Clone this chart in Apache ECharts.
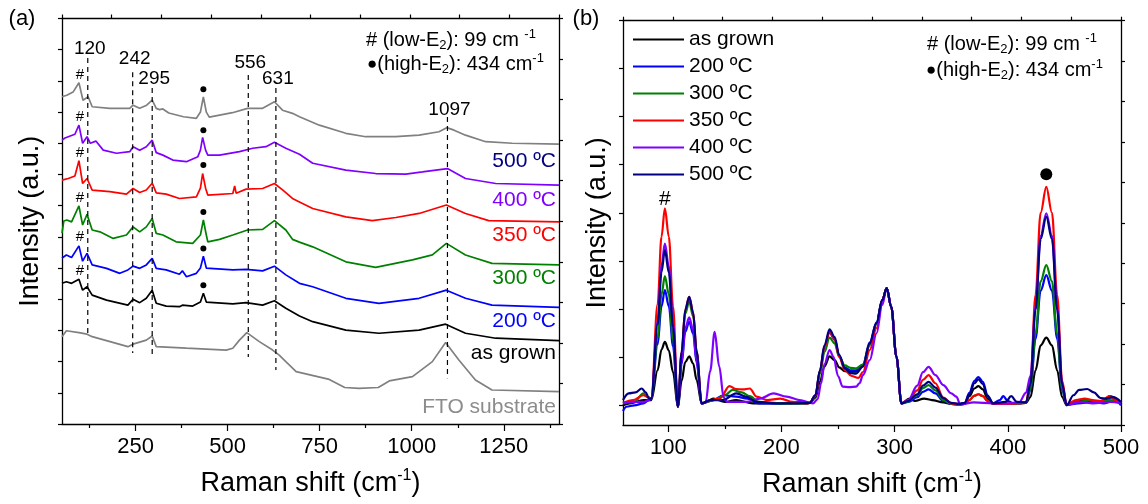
<!DOCTYPE html>
<html>
<head>
<meta charset="utf-8">
<script src="https://cdn.jsdelivr.net/npm/echarts@6/dist/echarts.min.js"></script>
<style>
html, body { margin: 0; padding: 0; background: #fff; }
#chart { width: 1148px; height: 504px; }
</style>
</head>
<body>
<div id="chart"></div>
<script>
// ---------- Panel (a): stacked Raman spectra, [Raman shift (cm-1), offset intensity (a.u.)] ----------
const specA500 = [[50,104.9],[63,105.4],[80,106.4],[96,109.4],[107,103.8],[121,104.9],[132,101.7],[180,101.2],[234,101.2],[243,102.2],[261,101.2],[280,102.2],[295,103.8],[306,101.2],[315,100.8],[324,101.0],[340,99.7],[380,98.5],[415,98.0],[426,100.0],[434,104.9],[442,100.0],[450,98.4],[513,99.8],[554,101.2],[595,101.2],[627,103.3],[649,100.6],[676,99.6],[695,98.5],[749,95.8],[821,93.2],[875,92.1],[956,92.1],[1020,92.6],[1074,93.7],[1095,95.0],[1115,94.2],[1146,92.6],[1201,90.5],[1273,90.0],[1400,89.7]];
const specA400 = [[50,91.0],[58,91.7],[67,92.1],[85,92.9],[96,95.8],[106,90.0],[118,92.1],[127,90.0],[142,90.7],[162,87.8],[198,86.8],[234,87.3],[243,88.9],[261,87.8],[279,88.9],[295,91.0],[306,87.0],[324,86.2],[351,84.6],[388,84.1],[419,85.7],[426,87.8],[432,91.9],[440,87.8],[446,86.2],[478,86.2],[532,87.3],[568,88.4],[604,88.9],[627,90.3],[658,88.4],[695,86.5],[731,83.6],[821,81.4],[902,80.3],[984,80.1],[1029,80.8],[1097,81.9],[1146,78.7],[1228,77.1],[1400,76.6]];
const specA350 = [[50,78.2],[67,78.7],[85,79.5],[96,84.4],[106,77.1],[118,78.7],[132,75.0],[180,74.5],[225,73.7],[243,75.5],[261,74.2],[279,75.0],[295,77.2],[306,74.1],[333,73.7],[369,72.3],[415,72.8],[426,75.6],[432,80.3],[440,75.6],[446,73.4],[514,73.9],[519,76.3],[523,74.0],[550,75.3],[595,75.5],[627,77.1],[650,75.0],[676,72.3],[695,71.2],[731,69.1],[821,66.4],[893,65.2],[957,66.2],[1020,67.5],[1094,70.2],[1146,67.5],[1209,65.2],[1400,64.8]];
const specA300 = [[50,61.2],[55,65.1],[63,65.4],[76,64.8],[96,69.9],[106,63.8],[118,67.2],[132,62.2],[153,61.6],[189,59.5],[225,60.6],[243,63.2],[261,61.6],[279,63.2],[295,65.9],[306,61.1],[324,60.6],[360,58.4],[405,57.9],[426,60.6],[434,65.4],[442,60.6],[446,58.4],[478,59.2],[514,60.6],[554,62.2],[595,62.4],[627,65.2],[658,62.2],[676,59.2],[695,58.3],[731,56.8],[821,52.0],[902,50.2],[1002,52.6],[1056,54.2],[1094,57.9],[1146,54.2],[1218,51.5],[1400,51.0]];
const specA200 = [[50,53.2],[62,54.2],[76,53.4],[96,57.1],[106,52.2],[118,54.7],[132,51.0],[171,49.9],[207,48.3],[229,49.4],[243,50.6],[261,49.9],[279,51.0],[295,53.1],[306,49.9],[333,49.4],[369,48.0],[377,49.1],[388,47.2],[415,48.3],[426,50.0],[434,53.8],[442,50.0],[446,49.6],[514,49.4],[550,49.6],[595,49.1],[627,50.6],[658,47.8],[695,45.1],[731,44.0],[821,40.3],[911,38.7],[1020,40.3],[1094,42.9],[1146,40.3],[1218,38.1],[1400,37.4]];
const specAGrown = [[50,45.1],[62,45.6],[76,45.1],[96,46.4],[106,42.9],[118,44.0],[132,41.3],[171,39.7],[229,38.1],[243,40.0],[261,38.9],[279,40.3],[295,42.9],[306,38.7],[333,37.8],[369,37.6],[377,38.1],[405,37.8],[426,39.1],[434,41.9],[442,39.1],[446,38.5],[514,38.5],[550,38.9],[595,38.1],[627,39.5],[658,37.1],[695,34.6],[731,32.8],[821,30.1],[911,29.1],[1020,30.1],[1092,32.0],[1146,29.1],[1228,27.5],[1400,26.7]];
const specAFTO = [[50,28.0],[62,29.9],[96,29.3],[118,28.8],[132,28.0],[229,24.8],[243,25.6],[279,26.9],[295,28.2],[306,24.8],[388,24.3],[496,23.7],[514,24.3],[532,26.9],[552,29.3],[586,26.4],[622,23.7],[640,22.1],[658,20.0],[686,16.8],[776,14.3],[818,11.7],[857,11.4],[909,11.7],[939,13.8],[1002,15.2],[1056,20.0],[1092,26.1],[1128,20.5],[1173,14.1],[1218,10.9],[1400,10.4]];

// Assigned mode positions (dashed guides) and their vertical extent
const peakShifts = [120, 242, 295, 556, 631, 1097];
const peakLineTop = [117.3, 112.8, 107.7, 111.9, 107.7, 98.4];
const peakLineBottom = [27.9, 22.8, 21.8, 21.5, 17.3, 14.7];
const peakLabelLevel = [120.2, 117.0, 110.6, 115.7, 110.6, 100.6];
// low-E2 (#, 99 cm-1) and high-E2 (dot, 434 cm-1) marks above each film spectrum
const lowE2Shift = 99;
const lowE2Levels = [111.9, 98.5, 86.8, 72.6, 59.9, 49.0];
const highE2Shift = 434;
const highE2Levels = [107.3, 94.2, 83.0, 68.0, 56.3, 44.5];

// Tick values
const tickA = [250, 500, 750, 1000, 1250];
const minorTickA = [125, 375, 625, 875, 1125, 1375];
const tickB = [100, 200, 300, 400, 500];
const minorTickB = [150, 250, 350, 450];
const tickBLeft = [0, 1, 2, 3, 4, 5, 6, 7, 8];

// ---------- Panel (b): low-frequency region, [Raman shift (cm-1), intensity (a.u.)] ----------
const specBGrown = [[60,-0.01],[66,0.03],[78,0.10],[83,0.10],[85,0.10],[90.6,0.72],[94,1.15],[97,1.31],[100.5,1.13],[104.2,0.68],[108.5,-0.04],[111.8,0.50],[115,0.89],[118.5,1.01],[122,0.86],[125,0.52],[129.5,0.03],[135,0.08],[140,0.13],[150,0.06],[160,0.10],[175,0.03],[200,0.03],[222,0.03],[225,0.04],[230,0.15],[234,0.48],[238,0.80],[242.5,1.01],[247,0.93],[251,0.78],[256,0.70],[261,0.69],[266,0.69],[272,0.80],[278,1.25],[284,1.70],[289,2.18],[293,2.43],[297,2.04],[301.6,1.00],[306,0.03],[313,0.13],[318,0.08],[326,0.13],[333,0.10],[343,0.05],[350,0.02],[357,0.01],[362,0.03],[366,0.18],[370.5,0.34],[374,0.39],[378,0.32],[382,0.13],[387,0.02],[400,0.02],[416,0.04],[420,0.16],[424.5,0.72],[429,1.24],[434,1.40],[439,1.24],[443.6,0.72],[448,0.16],[452,0.00],[460,0.06],[468,0.10],[476,0.04],[483,0.04],[490,0.18],[500,0.04]];
const specB200 = [[60,-0.13],[63,-0.04],[70,-0.01],[78,0.03],[83,0.10],[85,0.13],[90.6,1.26],[94,2.05],[97,2.39],[100.5,2.05],[104.2,1.22],[108.5,-0.04],[111.8,0.85],[115,1.52],[118.5,1.73],[122,1.48],[125,0.88],[129.5,0.03],[140,0.10],[148.5,0.20],[160,0.17],[170,0.13],[180,0.03],[200,0.03],[215,0.06],[222,0.03],[225,0.04],[230,0.20],[234,0.70],[238,1.20],[242.5,1.51],[247,1.36],[251,1.02],[256,0.78],[261,0.72],[266,0.72],[272,0.84],[278,1.30],[284,1.72],[289,2.18],[293,2.43],[297,2.04],[301.6,1.00],[306,0.03],[312,0.06],[320,0.16],[325,0.27],[330,0.32],[336,0.24],[343,0.08],[350,0.02],[357,0.01],[362,0.04],[366,0.25],[370.5,0.50],[374,0.58],[378,0.48],[382,0.20],[387,0.03],[393,0.10],[396,0.18],[400,0.08],[405,0.03],[410,0.03],[416,0.05],[420,0.31],[424.5,1.38],[429,2.38],[434,2.70],[439,2.38],[443.6,1.38],[448,0.31],[452,0.00],[462,0.03],[475,0.06],[485,0.03],[495,0.10],[500,-0.01]];
const specB300 = [[60,0.04],[70,0.06],[78,0.24],[82,0.16],[85,0.13],[90.6,1.40],[94,2.30],[97,2.68],[100.5,2.30],[104.2,1.36],[108.5,-0.04],[111.8,1.05],[115,1.90],[118.5,2.15],[122,1.84],[125,1.08],[129.5,0.03],[140,0.10],[150,0.20],[157,0.31],[165,0.26],[172,0.18],[180,0.06],[200,0.03],[222,0.03],[225,0.04],[230,0.18],[234,0.64],[238,1.10],[242.5,1.40],[247,1.28],[251,1.00],[256,0.82],[261,0.77],[266,0.76],[272,0.84],[278,1.25],[284,1.68],[289,2.16],[293,2.43],[297,2.04],[301.6,1.00],[306,0.03],[312,0.07],[320,0.20],[325,0.35],[330,0.41],[336,0.30],[343,0.10],[350,0.02],[357,0.00],[362,0.02],[366,0.10],[370.5,0.19],[374,0.22],[378,0.18],[382,0.08],[387,0.02],[400,0.02],[416,0.04],[420,0.33],[424.5,1.48],[429,2.57],[434,2.91],[439,2.57],[443.6,1.48],[448,0.33],[452,0.00],[462,0.06],[472,0.10],[480,0.06],[490,0.10],[500,0.04]];
const specB350 = [[60,0.04],[69,0.10],[78,0.20],[82,0.16],[85,0.13],[90.6,2.10],[94,3.50],[97,4.09],[100.5,3.50],[104.2,2.05],[108.5,-0.04],[111.8,1.10],[115,1.98],[118.5,2.25],[122,1.92],[125,1.12],[129.5,0.03],[138,0.10],[146,0.14],[154,0.39],[160,0.33],[166,0.32],[172,0.34],[178,0.17],[187,0.10],[199,0.13],[210,0.06],[222,0.03],[225,0.04],[230,0.19],[234,0.70],[238,1.20],[242.5,1.52],[247,1.37],[251,1.00],[256,0.72],[262,0.60],[268,0.56],[272,0.68],[278,1.14],[284,1.60],[289,2.18],[293,2.43],[297,2.04],[301.6,1.00],[306,0.03],[312,0.10],[320,0.30],[325,0.52],[330,0.62],[336,0.45],[343,0.15],[350,0.03],[357,0.01],[362,0.02],[366,0.10],[370.5,0.19],[374,0.22],[378,0.18],[382,0.08],[387,0.02],[400,0.02],[416,0.04],[420,0.50],[424.5,2.29],[429,4.00],[434,4.54],[439,4.00],[443.6,2.29],[448,0.50],[452,0.00],[460,0.10],[468,0.13],[475,0.10],[482,0.08],[490,0.18],[495,0.10],[500,0.04]];
const specB400 = [[60,0.03],[68,0.06],[78,0.06],[83,0.10],[85,0.13],[90.6,1.74],[94,2.90],[97,3.36],[100.5,2.88],[104.2,1.70],[108.5,-0.04],[111.8,0.90],[115,1.60],[118.5,1.82],[122,1.56],[125,0.92],[129.5,0.03],[133,0.05],[137,0.70],[141,1.52],[145,0.80],[149,0.15],[152,0.06],[169,0.06],[181,0.13],[193,0.24],[204.5,0.17],[216,0.10],[228,0.03],[232,0.12],[235,0.45],[238,0.85],[242.5,1.14],[246,1.00],[250,0.60],[254,0.38],[260,0.37],[266,0.38],[269,0.45],[272,0.62],[278,0.93],[284,1.49],[289,2.08],[293,2.43],[297,2.04],[301.6,1.00],[306,0.03],[312,0.10],[320,0.40],[325,0.68],[330,0.79],[336,0.62],[343,0.41],[350,0.24],[354.5,0.17],[358,0.01],[370,0.05],[387,0.03],[400,0.03],[410,0.05],[416,0.25],[420,0.60],[424.5,2.05],[429,3.52],[434,3.99],[439,3.52],[443.6,2.02],[448,0.40],[452,0.00],[465,0.06],[475,0.03],[490,0.06],[500,0.03]];
const specB500 = [[60,0.10],[65,0.24],[71,0.26],[76.5,0.34],[80,0.26],[83,0.13],[85,0.13],[90.6,1.68],[94,2.76],[97,3.22],[100.5,2.76],[104.2,1.62],[108.5,-0.04],[111.8,1.10],[115,1.98],[118.5,2.25],[122,1.92],[125,1.12],[129.5,0.03],[137,0.10],[148.5,0.10],[160,0.24],[170,0.16],[178,0.06],[195,0.03],[210,0.03],[225,0.04],[230,0.20],[234,0.72],[238,1.24],[242.5,1.57],[247,1.41],[251,1.04],[256,0.76],[261,0.66],[266,0.65],[272,0.80],[278,1.28],[284,1.70],[289,2.18],[293,2.43],[297,2.04],[301.6,1.00],[306,0.03],[312,0.08],[320,0.22],[325,0.40],[330,0.48],[336,0.36],[343,0.14],[350,0.04],[357,0.02],[362,0.04],[366,0.22],[370.5,0.45],[374,0.53],[378,0.43],[382,0.18],[387,0.03],[398,0.06],[403,0.18],[408,0.06],[416,0.05],[420,0.43],[424.5,1.98],[429,3.45],[434,3.92],[439,3.45],[443.6,1.98],[448,0.43],[452,-0.01],[458,0.20],[463,0.31],[470,0.33],[476,0.26],[482,0.14],[487,0.13],[493,0.16],[500,0.06]];
const lowE2ShiftB = 97;
const lowE2LevelB = 4.28;
const highE2LevelB = 4.80;

const sampleNames = ['as grown', '200 ºC', '300 ºC', '350 ºC', '400 ºC', '500 ºC'];
const sampleColors = ['#000000', '#0000FF', '#008000', '#FF0000', '#8000FF', '#000080'];

const FONT = '"Liberation Sans", Arial, Helvetica, sans-serif';
const BLACK = '#000';

const chart = echarts.init(document.getElementById('chart'), null, { renderer: 'canvas' });

function frameX(gridIndex, min, max, position, tickValues, tickLen, extra) {
  return Object.assign({
    gridIndex, type: 'value', min, max, position,
    axisLine: { show: true, onZero: false, lineStyle: { color: BLACK, width: 1.3 } },
    axisTick: { show: true, inside: false, length: tickLen, customValues: tickValues, lineStyle: { color: BLACK, width: 1.2 } },
    axisLabel: { show: false },
    splitLine: { show: false }
  }, extra || {});
}
function frameY(gridIndex, min, max, position, tickValues, extra) {
  return Object.assign({
    gridIndex, type: 'value', min, max, position,
    axisLine: { show: true, onZero: false, lineStyle: { color: BLACK, width: 1.3 } },
    axisTick: { show: true, inside: false, length: 4, customValues: tickValues, lineStyle: { color: BLACK, width: 1.2 } },
    axisLabel: { show: false },
    splitLine: { show: false }
  }, extra || {});
}
const range = (a, b) => { const r = []; for (let i = a; i <= b; i++) r.push(i); return r; };

const shiftName = {
  name: '{a|Raman shift (cm}{s|-1}{a|)}',
  nameLocation: 'middle',
  nameTextStyle: {
    rich: {
      a: { fontSize: 27, fontFamily: FONT, color: BLACK, lineHeight: 32 },
      s: { fontSize: 16, fontFamily: FONT, color: BLACK, verticalAlign: 'top', lineHeight: 18 }
    }
  }
};
const intensityName = {
  name: 'Intensity (a.u.)',
  nameLocation: 'middle',
  nameTextStyle: { fontSize: 27, fontFamily: FONT, color: BLACK }
};
const tickLabelStyle = (values) => ({
  show: true, customValues: values, fontSize: 22, fontFamily: FONT, color: BLACK, margin: 12,
  formatter: v => String(v)
});
const hiddenLine = { show: false, onZero: false };

const xAxes = [
  frameX(0, 50, 1400, 'bottom', tickA, 7, Object.assign({ axisLabel: tickLabelStyle(tickA), nameGap: 44 }, shiftName)),
  frameX(0, 50, 1400, 'bottom', minorTickA, 4, { axisLine: hiddenLine }),
  frameX(0, 0, 10, 'top', range(0, 10), 4),
  frameX(1, 60, 500, 'bottom', tickB, 7, Object.assign({ axisLabel: tickLabelStyle(tickB), nameGap: 44 }, shiftName)),
  frameX(1, 60, 500, 'bottom', minorTickB, 4, { axisLine: hiddenLine }),
  frameX(1, 0, 10, 'top', range(0, 10), 4)
];
const yAxes = [
  frameY(0, 0, 130, 'left', range(0, 13).map(v => v * 10), Object.assign({ nameGap: 18 }, intensityName)),
  frameY(0, 0, 10, 'right', range(0, 10)),
  frameY(1, -0.42, 8, 'left', tickBLeft, Object.assign({ nameGap: 12 }, intensityName)),
  frameY(1, 0, 10, 'right', range(0, 10))
];

const series = [];

// Panel (a) spectra
const panelA = [
  { data: specAFTO, color: '#808080' },
  { data: specAGrown, color: sampleColors[0] },
  { data: specA200, color: sampleColors[1] },
  { data: specA300, color: sampleColors[2] },
  { data: specA350, color: sampleColors[3] },
  { data: specA400, color: sampleColors[4] },
  { data: specA500, color: '#808080' }
];
panelA.forEach(s => series.push({
  type: 'line', xAxisIndex: 0, yAxisIndex: 0, data: s.data, symbol: 'none',
  lineStyle: { color: s.color, width: 1.7 }, silent: true, z: 3
}));

// Dashed guides at assigned modes
peakShifts.forEach((p, i) => {
  series.push({
    type: 'line', xAxisIndex: 0, yAxisIndex: 0, symbol: 'none', silent: true, z: 4,
    data: [[p, peakLineTop[i]], [p, peakLineBottom[i]]],
    lineStyle: { color: BLACK, width: 1.2, type: [5, 4] }
  });
});
// high-E2 dots
series.push({
  type: 'scatter', xAxisIndex: 0, yAxisIndex: 0, symbol: 'circle', symbolSize: 6, silent: true, z: 5,
  itemStyle: { color: BLACK, opacity: 1 },
  data: highE2Levels.map(v => [highE2Shift, v])
});

// Panel (b) spectra
const panelB = [specBGrown, specB200, specB300, specB350, specB400, specB500];
panelB.forEach((d, i) => series.push({
  name: sampleNames[i], type: 'line', xAxisIndex: 3, yAxisIndex: 2, data: d,
  symbol: 'none', smooth: 0.35, smoothMonotone: 'x',
  lineStyle: { color: sampleColors[i], width: 2.2 }, itemStyle: { color: sampleColors[i] },
  silent: true, z: 3
}));
series.push({
  type: 'scatter', xAxisIndex: 3, yAxisIndex: 2, symbol: 'circle', symbolSize: 12, silent: true, z: 5,
  itemStyle: { color: BLACK, opacity: 1 },
  data: [[highE2Shift, highE2LevelB]]
});

chart.setOption({
  animation: false,
  backgroundColor: '#fff',
  textStyle: { fontFamily: FONT },
  grid: [
    { left: 62, right: 589, top: 18.5, bottom: 80, containLabel: false },
    { left: 623, right: 27, top: 20.7, bottom: 79, containLabel: false }
  ],
  legend: {
    data: sampleNames, orient: 'vertical', left: 628, top: 24,
    icon: 'rect', itemWidth: 51, itemHeight: 2, itemGap: 6, selectedMode: false,
    textStyle: { fontSize: 21, fontFamily: FONT, color: BLACK }
  },
  xAxis: xAxes,
  yAxis: yAxes,
  series
});

// ---------- Text annotations ----------
const labelA = [
  { text: '500 ºC', color: '#000080', y: 161.7 },
  { text: '400 ºC', color: '#8000FF', y: 200 },
  { text: '350 ºC', color: '#FF0000', y: 235 },
  { text: '300 ºC', color: '#008000', y: 278 },
  { text: '200 ºC', color: '#0000FF', y: 321.7 },
  { text: 'as grown', color: '#000000', y: 353 },
  { text: 'FTO substrate', color: '#8c8c8c', y: 407.7 }
];
const noteRich = {
  t: { fontSize: 20, fontFamily: FONT, color: BLACK, lineHeight: 24 },
  d: { fontSize: 17, fontFamily: FONT, color: BLACK, lineHeight: 24 },
  sub: { fontSize: 13, fontFamily: FONT, color: BLACK, verticalAlign: 'bottom', lineHeight: 13 },
  sup: { fontSize: 13, fontFamily: FONT, color: BLACK, verticalAlign: 'top', lineHeight: 13 }
};
function noteText(x, y, text) {
  return {
    type: 'text', x, y, silent: true,
    style: { text, rich: noteRich, align: 'left', verticalAlign: 'middle', textAlign: 'left', textVerticalAlign: 'middle' }
  };
}
function plainText(x, y, text, size, color, align) {
  return {
    type: 'text', x, y, silent: true, z: 10,
    style: { text, fill: color, font: size + 'px ' + FONT, align, verticalAlign: 'middle', textAlign: align, textVerticalAlign: 'middle' }
  };
}
const toA = pt => chart.convertToPixel({ xAxisIndex: 0, yAxisIndex: 0 }, pt);
const toB = pt => chart.convertToPixel({ xAxisIndex: 3, yAxisIndex: 2 }, pt);

const graphics = [
  plainText(22, 19, '(a)', 22, BLACK, 'center'),
  plainText(586, 19, '(b)', 22, BLACK, 'center'),
  noteText(366, 40, '{t|# (low-E}{sub|2}{t|): 99 cm }{sup|-1}'),
  noteText(367, 64, '{d|●}{t|(high-E}{sub|2}{t|): 434 cm}{sup|-1}'),
  noteText(927, 44, '{t|# (low-E}{sub|2}{t|): 99 cm }{sup|-1}'),
  noteText(926, 70, '{d|●}{t|(high-E}{sub|2}{t|): 434 cm}{sup|-1}')
]
  .concat(labelA.map(l => plainText(556, l.y, l.text, 21, l.color, 'right')))
  .concat(peakShifts.map((p, i) => {
    const q = toA([p, peakLabelLevel[i]]);
    return plainText(q[0] + 2, q[1], String(p), 19, BLACK, 'center');
  }))
  .concat(lowE2Levels.map(v => {
    const q = toA([lowE2Shift, v]);
    return plainText(q[0], q[1], '#', 15, BLACK, 'center');
  }))
  .concat([(() => {
    const q = toB([lowE2ShiftB, lowE2LevelB]);
    return plainText(q[0], q[1], '#', 21, BLACK, 'center');
  })()]);

chart.setOption({ graphic: { elements: graphics } });
</script>
</body>
</html>
